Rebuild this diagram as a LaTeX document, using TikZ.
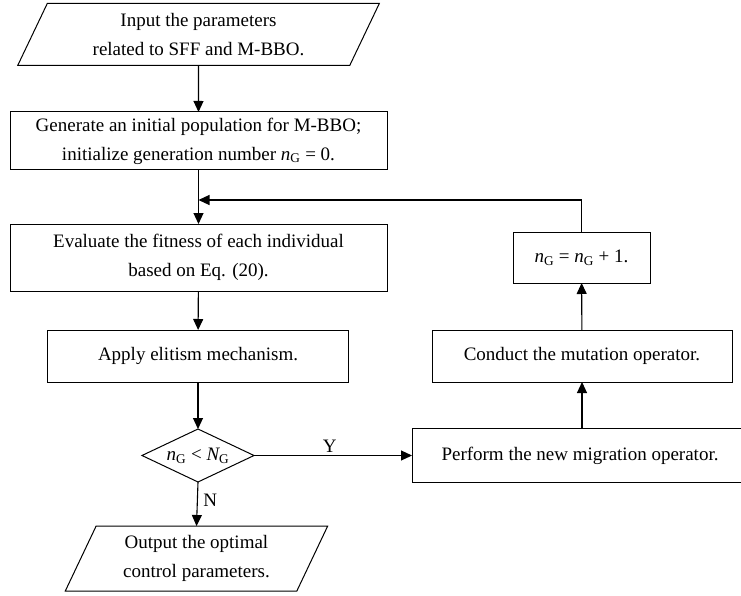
\documentclass[tikz,border=0pt]{standalone}
\usepackage{fontspec}
\setmainfont{Liberation Serif}
\usetikzlibrary{shapes.geometric,arrows.meta}
\newcommand{\nGsym}{{\itshape n}\textsubscript{G}}
\newcommand{\NGsym}{{\itshape N}\textsubscript{G}}
\begin{document}
\begin{tikzpicture}[x=1pt,y=-1pt,
  font=\fontsize{19}{29}\selectfont,
  every node/.style={inner sep=0pt,outer sep=0pt},
  procbox/.style={draw,line width=1pt,align=center,rectangle},
  iobox/.style={draw,line width=1pt,align=center,trapezium,trapezium left angle=64,trapezium right angle=116,trapezium stretches=true},
  decbox/.style={draw,line width=1pt,diamond,aspect=2.1},
  flow/.style={line width=1.1pt,-{Triangle[length=11pt,width=10pt]}},
  plain/.style={line width=1.1pt}]
\useasboundingbox (0,0) rectangle (741,596);
\node[iobox,minimum width=363pt,minimum height=62pt] (in) at (198.5,34.5) {Input the parameters\\related to SFF and M-BBO.};
\node[procbox,minimum width=377pt,minimum height=58pt] (gen) at (198.5,141) {Generate an initial population for M-BBO;\\initialize generation number \nGsym{} = 0.};
\node[procbox,minimum width=377pt,minimum height=67pt] (eval) at (198.5,257.5) {Evaluate the fitness of each individual\\based on Eq. (20).};
\node[procbox,minimum width=301pt,minimum height=52pt] (apply) at (198,356) {Apply elitism mechanism.};
\node[decbox,minimum width=112pt,minimum height=53pt] (dec) at (198,455.5) {};
\node at (dec.center) {\nGsym{} < \NGsym};
\node[iobox,minimum width=263pt,minimum height=65pt] (out) at (196.5,558.5) {Output the optimal\\control parameters.};
\node[procbox,minimum width=336pt,minimum height=54pt,anchor=west] (perf) at (412,455.5) {Perform the new migration operator.};
\node[procbox,minimum width=300pt,minimum height=52pt] (cond) at (582,356) {Conduct the mutation operator.};
\node[procbox,minimum width=137pt,minimum height=51pt] (inc) at (581.5,257.5) {\nGsym{} = \nGsym{} + 1.};
\coordinate (fbr) at (581.5,200);
\coordinate (fbl) at (198.5,200);
\draw[flow] (in) -- (gen);
\draw[plain] (gen.south) -- (fbl);
\draw[flow] (fbl) -- (eval);
\draw[flow] (eval) -- (apply);
\draw[flow] (apply) -- (dec);
\draw[flow] (dec.south) -- node[right=6pt,pos=0.42] (nlab) {N} (out.north);
\draw[flow] (dec.east) -- node[above=3pt,pos=0.48] (ylab) {Y} (perf.west);
\draw[flow] (perf.north -| cond) -- (cond);
\draw[flow] (cond) -- (inc);
\draw[plain] (inc.north) -- (fbr);
\draw[flow] (fbr) -- (fbl);
\end{tikzpicture}
\end{document}
